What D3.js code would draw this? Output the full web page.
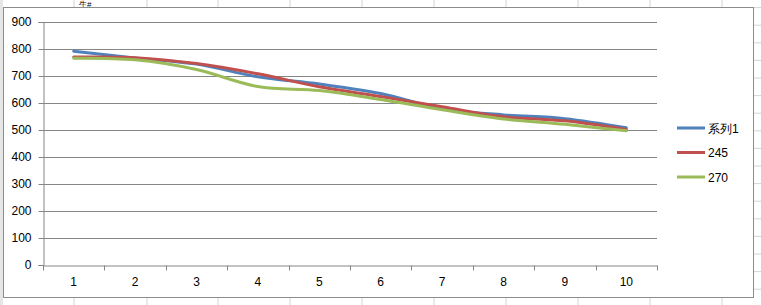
<!DOCTYPE html>
<html>
<head>
<meta charset="utf-8">
<script src="https://cdn.jsdelivr.net/npm/d3@7"></script>
<style>
  body { margin: 0; background: #fff; }
  svg { display: block; font-family: "Liberation Sans", "DejaVu Sans", sans-serif; }
</style>
</head>
<body>
<div class="chart"></div>
<script>
var W = 761, H = 305;
var margin = {top: 22, left: 43, right: 104, bottom: 40};

// data
let categories = ['1', '2', '3', '4', '5', '6', '7', '8', '9', '10'];
let seriesNames = ['系列1', '245', '270'];
let seriesColors = ['#4f81bd', '#c0504d', '#9bbb59'];
let series1 = [792, 767, 744, 697, 670, 635, 578, 556, 542, 508];
let series245 = [770, 768, 746, 708, 660, 624, 586, 549, 534, 502];
let series270 = [766, 760, 724, 661, 646, 613, 575, 541, 521, 497];
let yTicks = [0, 100, 200, 300, 400, 500, 600, 700, 800, 900];

let allSeries = [series1, series245, series270];

let svg = d3.select('.chart')
  .append('svg')
  .attr('width', W)
  .attr('height', H);

// spreadsheet behind the chart
let sheet = svg.append('g');
sheet.append('rect').attr('width', W).attr('height', H).style('fill', '#fff');
let colX = [2, 74, 147, 218, 290, 362, 434, 506, 578, 650, 722];
sheet.selectAll('.col')
  .data(colX)
  .enter()
  .append('line')
  .attr('x1', d => d).attr('x2', d => d)
  .attr('y1', 0).attr('y2', H)
  .style('stroke', '#d4d4d4');
let rowY = d3.range(-10, H, 17.6);
sheet.selectAll('.row')
  .data(rowY)
  .enter()
  .append('line')
  .attr('x1', 0).attr('x2', W)
  .attr('y1', d => d).attr('y2', d => d)
  .style('stroke', '#d4d4d4');
sheet.append('rect')
  .attr('width', 3).attr('height', H)
  .style('fill', '#e6e6e6');
sheet.append('text')
  .attr('x', 79).attr('y', 7)
  .style('font-size', '8px')
  .style('fill', '#000')
  .text('生#');

// chart area
svg.append('rect')
  .attr('x', 3.5).attr('y', 7.5)
  .attr('width', 750).attr('height', 290)
  .style('fill', '#fff')
  .style('stroke', '#8c8c8c');

let plotW = 657 - margin.left;
let plotH = 265 - margin.top;

let g = svg.append('g')
  .attr('transform', `translate(${margin.left}, ${margin.top})`);

let xScale = d3.scaleBand()
  .domain(categories)
  .range([0, plotW])
  .padding(0);

let yScale = d3.scaleLinear()
  .domain([0, 900])
  .range([plotH, 0]);

// gridlines
g.selectAll('.grid')
  .data(yTicks.filter(d => d > 0))
  .enter()
  .append('line')
  .attr('x1', 0).attr('x2', plotW)
  .attr('y1', d => Math.round(yScale(d)) + 0.5)
  .attr('y2', d => Math.round(yScale(d)) + 0.5)
  .style('stroke', '#868686');

// y axis
let yAxis = d3.axisLeft(yScale)
  .tickValues(yTicks)
  .tickSize(5)
  .tickPadding(7);
let yG = g.append('g')
  .attr('transform', 'translate(0.5, 0)')
  .call(yAxis);

// x axis with ticks at category boundaries
let xAxis = d3.axisBottom(xScale).tickSize(0).tickPadding(12);
let xG = g.append('g')
  .attr('transform', `translate(0, ${plotH + 0.5})`)
  .call(xAxis);
xG.selectAll('.bound')
  .data(d3.range(categories.length + 1))
  .enter()
  .append('line')
  .attr('x1', i => Math.round(i * xScale.step()) + 0.5)
  .attr('x2', i => Math.round(i * xScale.step()) + 0.5)
  .attr('y1', 0).attr('y2', 5)
  .style('stroke', '#868686');

[yG, xG].forEach(a => {
  a.select('.domain').style('stroke', '#868686');
  a.selectAll('.tick line').style('stroke', '#868686');
  a.selectAll('text').style('font-size', '12px').style('fill', '#000');
});

// lines
let line = d3.line()
  .x((d, i) => xScale(categories[i]) + xScale.bandwidth() / 2)
  .y(d => yScale(d))
  .curve(d3.curveCatmullRom.alpha(0.5));

g.selectAll('.series')
  .data(allSeries)
  .enter()
  .append('path')
  .attr('d', d => line(d))
  .style('fill', 'none')
  .style('stroke', (d, i) => seriesColors[i])
  .style('stroke-width', 3)
  .style('stroke-linecap', 'round')
  .style('stroke-linejoin', 'round');

// legend
let legend = svg.selectAll('.legend')
  .data(seriesNames)
  .enter()
  .append('g')
  .attr('transform', (d, i) => `translate(677, ${128 + i * 24.5})`);
legend.append('line')
  .attr('x1', 0).attr('x2', 28)
  .attr('y1', 0).attr('y2', 0)
  .style('stroke', (d, i) => seriesColors[i])
  .style('stroke-width', 3);
legend.append('text')
  .attr('x', 31)
  .attr('y', 4.5)
  .style('font-size', '12px')
  .style('fill', '#000')
  .text(d => d);
</script>
</body>
</html>
